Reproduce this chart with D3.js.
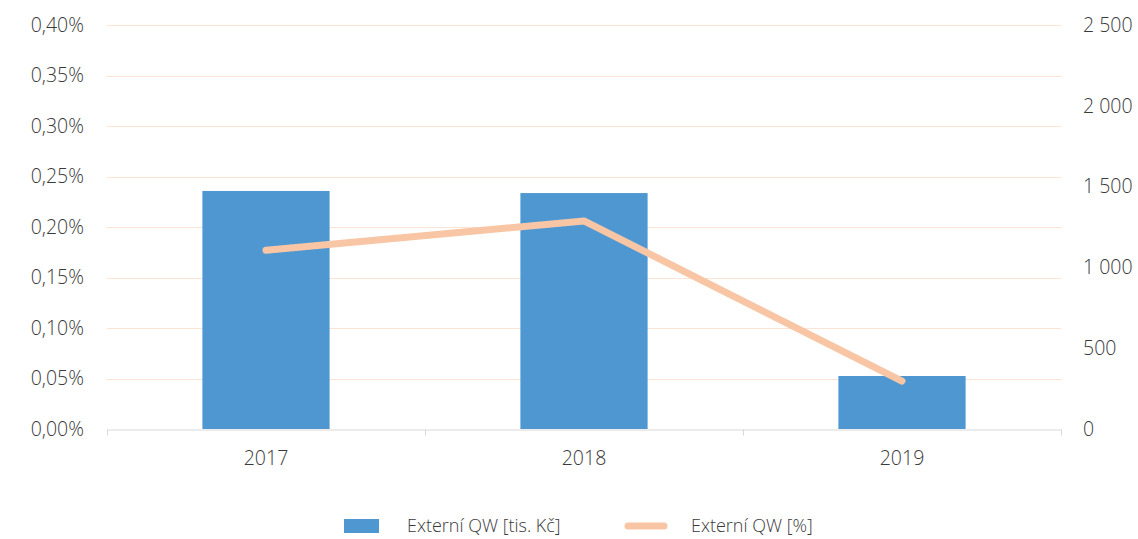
<!DOCTYPE html>
<html>
<head>
<meta charset="utf-8">
<script src="https://cdn.jsdelivr.net/npm/d3@7"></script>
<style>
  body { margin: 0; background: #fff; }
  text { font-family: "Open Sans", sans-serif; font-weight: 300; fill: #3a3a3a; }
</style>
</head>
<body>
<script>
// data
var years = ["2017", "2018", "2019"];
var amounts = [1473, 1460, 328];          // Externí QW [tis. Kč], right axis
var shares = [0.00177, 0.00206, 0.000475]; // Externí QW [%], left axis
var leftTicks = [0, 0.0005, 0.001, 0.0015, 0.002, 0.0025, 0.003, 0.0035, 0.004];
var rightTicks = [0, 500, 1000, 1500, 2000, 2500];

var W = 1138, H = 539;
var m = {left: 107, right: 77, top: 25, bottom: 110};
var fs = "19.5px";

var svg = d3.select("body").append("svg").attr("width", W).attr("height", H);

var x = d3.scaleBand().domain(years).range([m.left, W - m.right]).padding(0);
var yL = d3.scaleLinear().domain([0, 0.004]).range([H - m.bottom, m.top]);
var yR = d3.scaleLinear().domain([0, 2500]).range([H - m.bottom, m.top]);

// gridlines
svg.append("g").selectAll("line").data(leftTicks.slice(1)).enter().append("line")
  .attr("x1", m.left).attr("x2", W - m.right)
  .attr("y1", function(d) { return Math.round(yL(d)) + 0.5; })
  .attr("y2", function(d) { return Math.round(yL(d)) + 0.5; })
  .attr("stroke", "#fbe4d6").attr("stroke-width", 1);

// left axis labels
var fmtPct = function(d) { return (d * 100).toFixed(2).replace(".", ",") + "%"; };
svg.append("g").selectAll("text").data(leftTicks).enter().append("text")
  .attr("x", 84).attr("y", function(d) { return yL(d); })
  .attr("dy", "0.35em").attr("text-anchor", "end")
  .style("font-size", fs).text(fmtPct);

// right axis labels
var fmtNum = function(d) { return d3.format(",")(d).replace(",", " "); };
svg.append("g").selectAll("text").data(rightTicks).enter().append("text")
  .attr("x", 1083).attr("y", function(d) { return yR(d); })
  .attr("dy", "0.35em").attr("text-anchor", "start")
  .style("font-size", fs).text(fmtNum);

// bars
var bw = x.bandwidth() * 0.4;
svg.append("g").selectAll("rect").data(amounts).enter().append("rect")
  .attr("x", function(d, i) { return x(years[i]) + (x.bandwidth() - bw) / 2; })
  .attr("y", function(d) { return yR(d); })
  .attr("width", bw)
  .attr("height", function(d) { return yR(0) - yR(d); })
  .attr("fill", "#4e97d1");

// x axis
var xAxis = svg.append("g").attr("transform", "translate(0," + (H - m.bottom + 0.5) + ")")
  .call(d3.axisBottom(x).tickSize(0).tickPadding(22));
xAxis.select(".domain").attr("stroke", "#d9d9d9");
xAxis.selectAll("text").style("font-size", fs).style("font-family", "'Open Sans', sans-serif")
  .style("font-weight", 300).attr("fill", "#3a3a3a");
var edges = [m.left].concat(years.map(function(d) { return x(d) + x.bandwidth(); }));
xAxis.selectAll(".edge").data(edges).enter().append("line")
  .attr("x1", function(d) { return Math.round(d) + 0.5; }).attr("x2", function(d) { return Math.round(d) + 0.5; })
  .attr("y1", 0).attr("y2", 6).attr("stroke", "#d9d9d9");

// line
var line = d3.line()
  .x(function(d, i) { return x(years[i]) + x.bandwidth() / 2; })
  .y(function(d) { return yL(d); });
svg.append("path").datum(shares).attr("d", line)
  .attr("fill", "none").attr("stroke", "#f8c5a5").attr("stroke-width", 7)
  .attr("stroke-linecap", "round").attr("stroke-linejoin", "round");

// legend
var lg = svg.append("g");
lg.append("rect").attr("x", 344).attr("y", 519).attr("width", 35).attr("height", 14).attr("fill", "#4e97d1");
lg.append("text").attr("x", 407).attr("y", 526).attr("dy", "0.35em").style("font-size", "18px").text("Externí QW [tis. Kč]");
lg.append("line").attr("x1", 628).attr("x2", 664).attr("y1", 526).attr("y2", 526)
  .attr("stroke", "#f8c5a5").attr("stroke-width", 7).attr("stroke-linecap", "round");
lg.append("text").attr("x", 691).attr("y", 526).attr("dy", "0.35em").style("font-size", "18px").text("Externí QW [%]");
</script>
</body>
</html>
